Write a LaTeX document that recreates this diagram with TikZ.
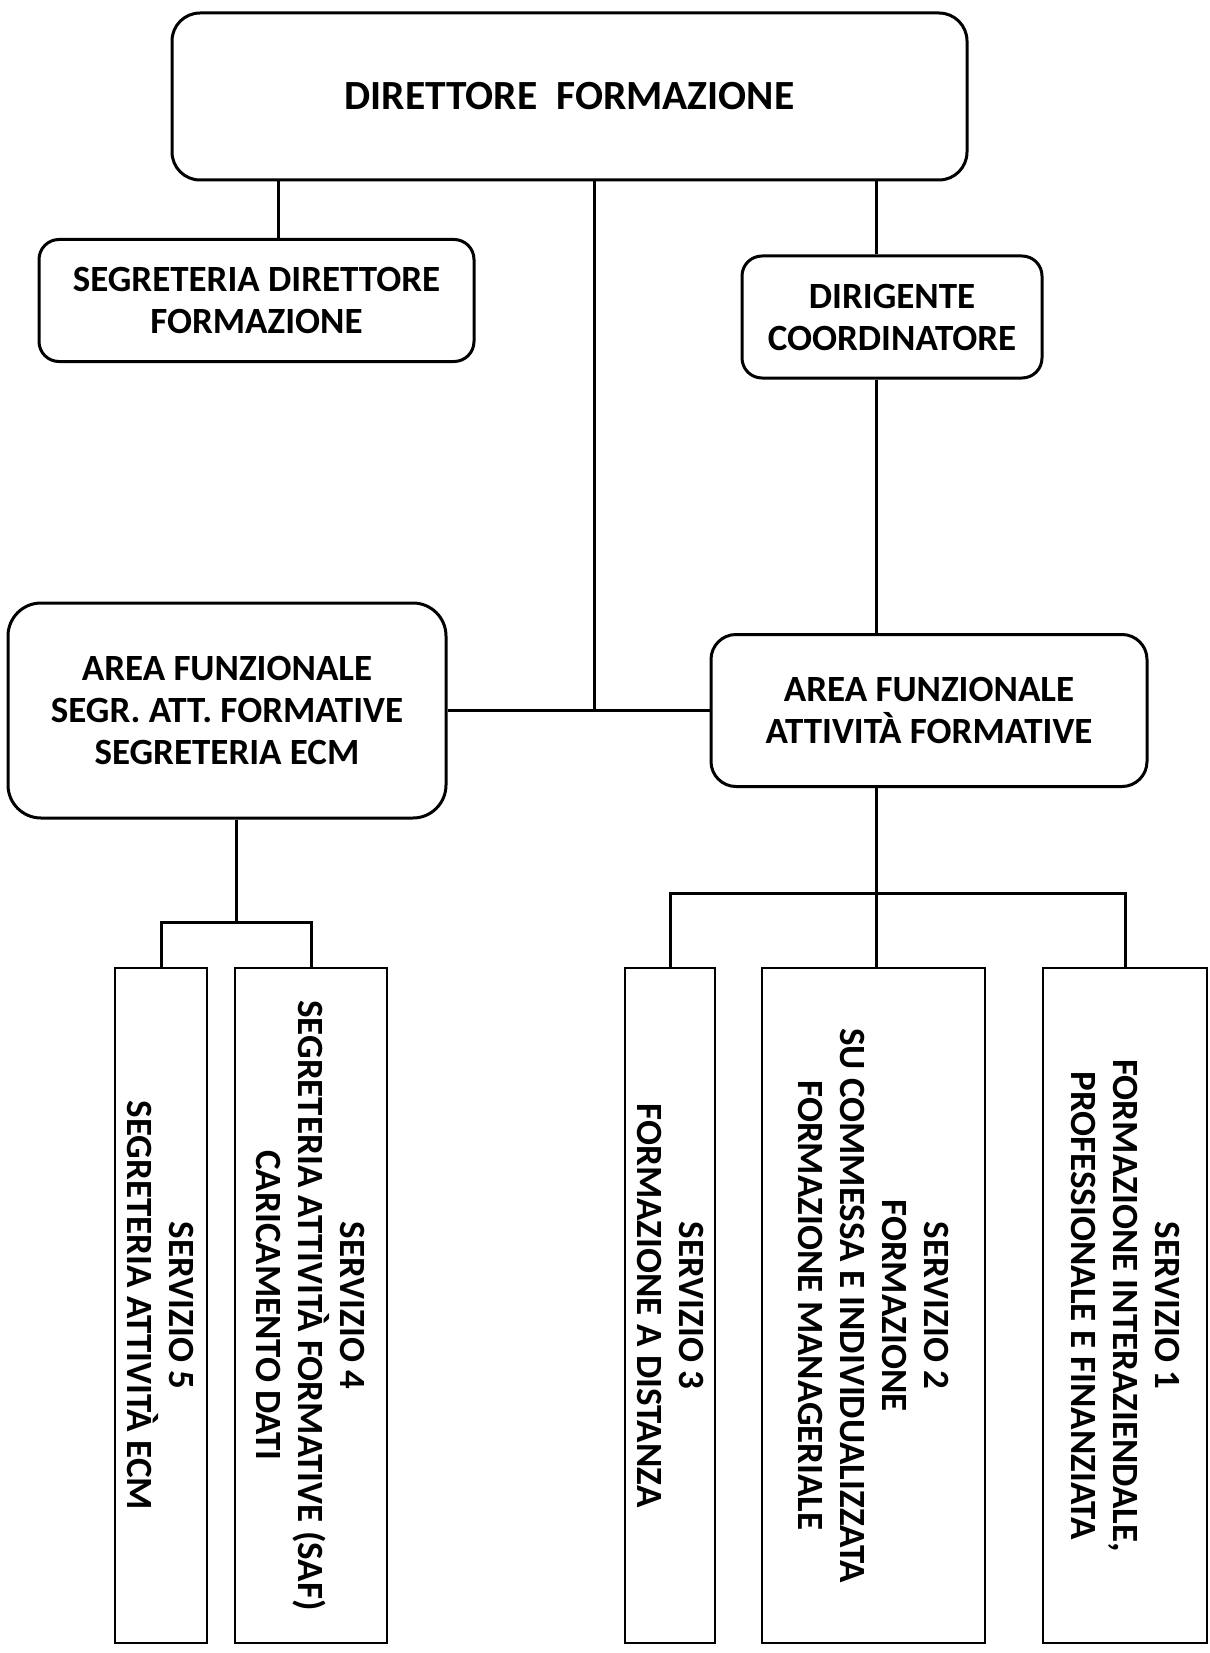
\documentclass[tikz,border=0pt]{standalone}
\usepackage{fontspec}
\setmainfont{Carlito}
\usetikzlibrary{calc}

\tikzset{
  box/.style={draw, line width=3pt, rounded corners=#1, align=center, inner sep=0pt,
    font=\bfseries\fontsize{37}{42}\selectfont},
  box/.default=20pt,
  servbox/.style={draw, line width=2.6pt, rotate=-90, align=center, inner sep=0pt,
    minimum width=675pt, font=\bfseries\fontsize{37}{42}\selectfont},
  link/.style={line width=3pt}
}

\begin{document}
\begin{tikzpicture}[x=1pt,y=-1pt]
  \path[use as bounding box, fill=white] (0,0) rectangle (1209,1653);

  \node[box=28pt, minimum width=795pt, minimum height=167pt,
    font=\bfseries\fontsize{41.5}{46}\selectfont] (dir) at (569.5,96.5) {DIRETTORE\ \ FORMAZIONE};
  \node[box, minimum width=435pt, minimum height=122pt] (segr) at (256.5,300.5)
    {SEGRETERIA DIRETTORE\\FORMAZIONE};
  \node[box, minimum width=300pt, minimum height=122pt] (dirig) at (892,317)
    {DIRIGENTE\\COORDINATORE};
  \node[box=33pt, minimum width=438pt, minimum height=215pt] (areaL) at (227,710.5)
    {AREA FUNZIONALE\\SEGR. ATT. FORMATIVE\\SEGRETERIA ECM};
  \node[box=25pt, minimum width=436pt, minimum height=152pt] (areaR) at (929,710.5)
    {AREA FUNZIONALE\\ATTIVITÀ FORMATIVE};

  \node[servbox, minimum height=92pt] (s5) at (161,1305.5)
    {SERVIZIO 5\\SEGRETERIA ATTIVITÀ ECM};
  \node[servbox, minimum height=152pt] (s4) at (311,1305.5)
    {SERVIZIO 4\\SEGRETERIA ATTIVITÀ FORMATIVE (SAF)\\CARICAMENTO DATI};
  \node[servbox, minimum height=90pt] (s3) at (670,1305.5)
    {SERVIZIO 3\\FORMAZIONE A DISTANZA};
  \node[servbox, minimum height=223pt] (s2) at (873.5,1305.5)
    {SERVIZIO 2\\FORMAZIONE\\SU COMMESSA E INDIVIDUALIZZATA\\FORMAZIONE MANAGERIALE};
  \node[servbox, minimum height=164pt] (s1) at (1125,1305.5)
    {SERVIZIO 1\\FORMAZIONE INTERAZIENDALE,\\PROFESSIONALE E FINANZIATA};

  \coordinate (xS) at (278,0);
  \coordinate (xM) at (594,0);
  \coordinate (xR) at (876,0);
  \coordinate (xL) at (236,0);
  \coordinate (brL) at (0,922);
  \coordinate (brR) at (0,893);

  \draw[link] (dir.south -| xS) -- (segr.north -| xS);
  \draw[link] (dir.south -| xM) -- (xM |- areaL.east);
  \draw[link] (areaL.east) -- (areaR.west);
  \draw[link] (dir.south -| xR) -- (dirig.north -| xR);
  \draw[link] (dirig.south -| xR) -- (areaR.north -| xR);
  \draw[link] (areaR.south -| xR) -- (s2.west -| xR);

  \draw[link] (areaL.south -| xL) -- (xL |- brL);
  \draw[link] (s5.west) -- (s5.west |- brL) -- (s4.west |- brL) -- (s4.west);
  \draw[link] (s3.west) -- (s3.west |- brR) -- (s1.west |- brR) -- (s1.west);
\end{tikzpicture}
\end{document}
